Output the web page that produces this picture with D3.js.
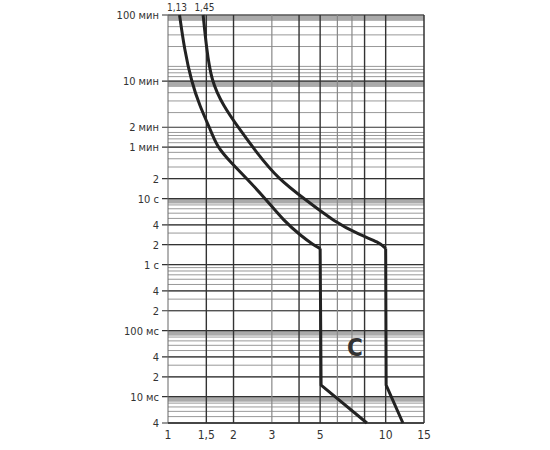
<!DOCTYPE html>
<html><head><meta charset="utf-8">
<script src="https://cdn.jsdelivr.net/npm/d3@7"></script>
<style>body{margin:0;background:#fff}text{font-family:"Liberation Sans Narrow","DejaVu Sans Condensed",Arial,sans-serif;fill:#333}</style>
</head><body>
<svg id="c" width="550" height="450"></svg>
<script>
"use strict";
// tick labels
var xTicks = [1, 1.5, 2, 3, 5, 10, 15];
var xTickLabels = ["1", "1,5", "2", "3", "5", "10", "15"];
var xDark = [1.5, 2, 4, 5, 8, 10];
var xGray = [3, 6, 7];
var yTicks = [6000, 600, 120, 60, 20, 10, 4, 2, 1, 0.4, 0.2, 0.1, 0.04, 0.02, 0.01, 0.004];
var yTickLabels = ["100 мин", "10 мин", "2 мин", "1 мин", "2", "10 с", "4", "2", "1 с", "4", "2", "100 мс", "4", "2", "10 мс", "4"];
// curves: [multiple of In, seconds] - thermal part (smooth) and magnetic part (straight)
var lowThermal = [[1.13, 6000], [1.19, 1800], [1.28, 600], [1.4, 250], [1.55, 120], [1.68, 60], [1.95, 35], [2.3, 20], [2.8, 10], [3.4, 4.6], [4.1, 2.7], [4.65, 2], [5, 1.75]];
var lowMagnetic = [[5, 1.75], [5.05, 0.015], [8.2, 0.004]];
var highThermal = [[1.45, 6000], [1.5, 2000], [1.58, 600], [1.8, 250], [2.1, 120], [2.55, 50], [3.2, 20], [4.3, 9.5], [5.8, 4.5], [7.6, 2.8], [9.3, 2.2], [10, 1.75]];
var highMagnetic = [[10, 1.75], [10.05, 0.015], [12, 0.004]];
var topLabels = [[1.1, "1,13"], [1.47, "1,45"]];

var svg = d3.select("#c");
var x = d3.scaleLog().domain([1, 15]).range([168, 424]);
var y = d3.scaleLog().domain([6000, 0.004]).range([15, 423]);

// minor horizontal grid
var minor = [];
for (var e = -3; e <= 4; e++) {
    for (var k = 1; k <= 9; k++) {
        var v = k * Math.pow(10, e);
        if (v >= 0.004 && v <= 6000) minor.push(v);
    }
}
svg.selectAll("line.hm").data(minor).enter().append("line")
    .attr("x1", 168).attr("x2", 424)
    .attr("y1", function(d){ return y(d); }).attr("y2", function(d){ return y(d); })
    .attr("stroke", "#999").attr("stroke-width", 1);
// grey bands just below each decade
var bands = [6000, 600, 10, 0.1, 0.01];
svg.selectAll("rect.band").data(bands).enter().append("rect")
    .attr("x", 168).attr("width", 256)
    .attr("y", function(d){ return y(d); }).attr("height", 5)
    .attr("fill", "#aaa");
svg.selectAll("line.hd").data(yTicks).enter().append("line")
    .attr("x1", 162).attr("x2", 424)
    .attr("y1", function(d){ return y(d); }).attr("y2", function(d){ return y(d); })
    .attr("stroke", "#333").attr("stroke-width", 1.2);

svg.selectAll("line.vg").data(xGray).enter().append("line")
    .attr("x1", function(d){ return x(d); }).attr("x2", function(d){ return x(d); })
    .attr("y1", 15).attr("y2", 423).attr("stroke", "#888").attr("stroke-width", 1.2);
svg.selectAll("line.vd").data(xDark).enter().append("line")
    .attr("x1", function(d){ return x(d); }).attr("x2", function(d){ return x(d); })
    .attr("y1", 15).attr("y2", 423).attr("stroke", "#333").attr("stroke-width", 1.4);

// frame
svg.append("line").attr("x1", 168).attr("x2", 168).attr("y1", 15).attr("y2", 423).attr("stroke", "#666");
svg.append("line").attr("x1", 424).attr("x2", 424).attr("y1", 15).attr("y2", 423).attr("stroke", "#333").attr("stroke-width", 1.5);
svg.append("line").attr("x1", 168).attr("x2", 424).attr("y1", 423).attr("y2", 423).attr("stroke", "#333").attr("stroke-width", 1.5);

// labels
svg.selectAll("text.yl").data(yTicks).enter().append("text")
    .attr("x", 159).attr("y", function(d){ return y(d) + 4; })
    .attr("text-anchor", "end").attr("font-size", 11)
    .text(function(d, i){ return yTickLabels[i]; });
svg.selectAll("text.xl").data(xTicks).enter().append("text")
    .attr("x", function(d){ return x(d); }).attr("y", 439)
    .attr("text-anchor", "middle").attr("font-size", 12)
    .text(function(d, i){ return xTickLabels[i]; });
svg.selectAll("text.tl").data(topLabels).enter().append("text")
    .attr("x", function(d){ return x(d[0]); }).attr("y", 11)
    .attr("text-anchor", "middle").attr("font-size", 10)
    .text(function(d){ return d[1]; });

var smooth = d3.line().x(function(d){ return x(d[0]); }).y(function(d){ return y(d[1]); })
    .curve(d3.curveBasis);
var straight = d3.line().x(function(d){ return x(d[0]); }).y(function(d){ return y(d[1]); });
[lowThermal, highThermal].forEach(function(c){
    svg.append("path").attr("d", smooth(c)).attr("fill", "none")
        .attr("stroke", "#222").attr("stroke-width", 3);
});
[lowMagnetic, highMagnetic].forEach(function(c){
    svg.append("path").attr("d", straight(c)).attr("fill", "none")
        .attr("stroke", "#222").attr("stroke-width", 3).attr("stroke-linejoin", "round");
});

svg.append("text").attr("x", 355).attr("y", 356).attr("text-anchor", "middle")
    .attr("font-size", 24).attr("font-weight", "bold").style("fill", "#333").text("C");
</script>
</body></html>
